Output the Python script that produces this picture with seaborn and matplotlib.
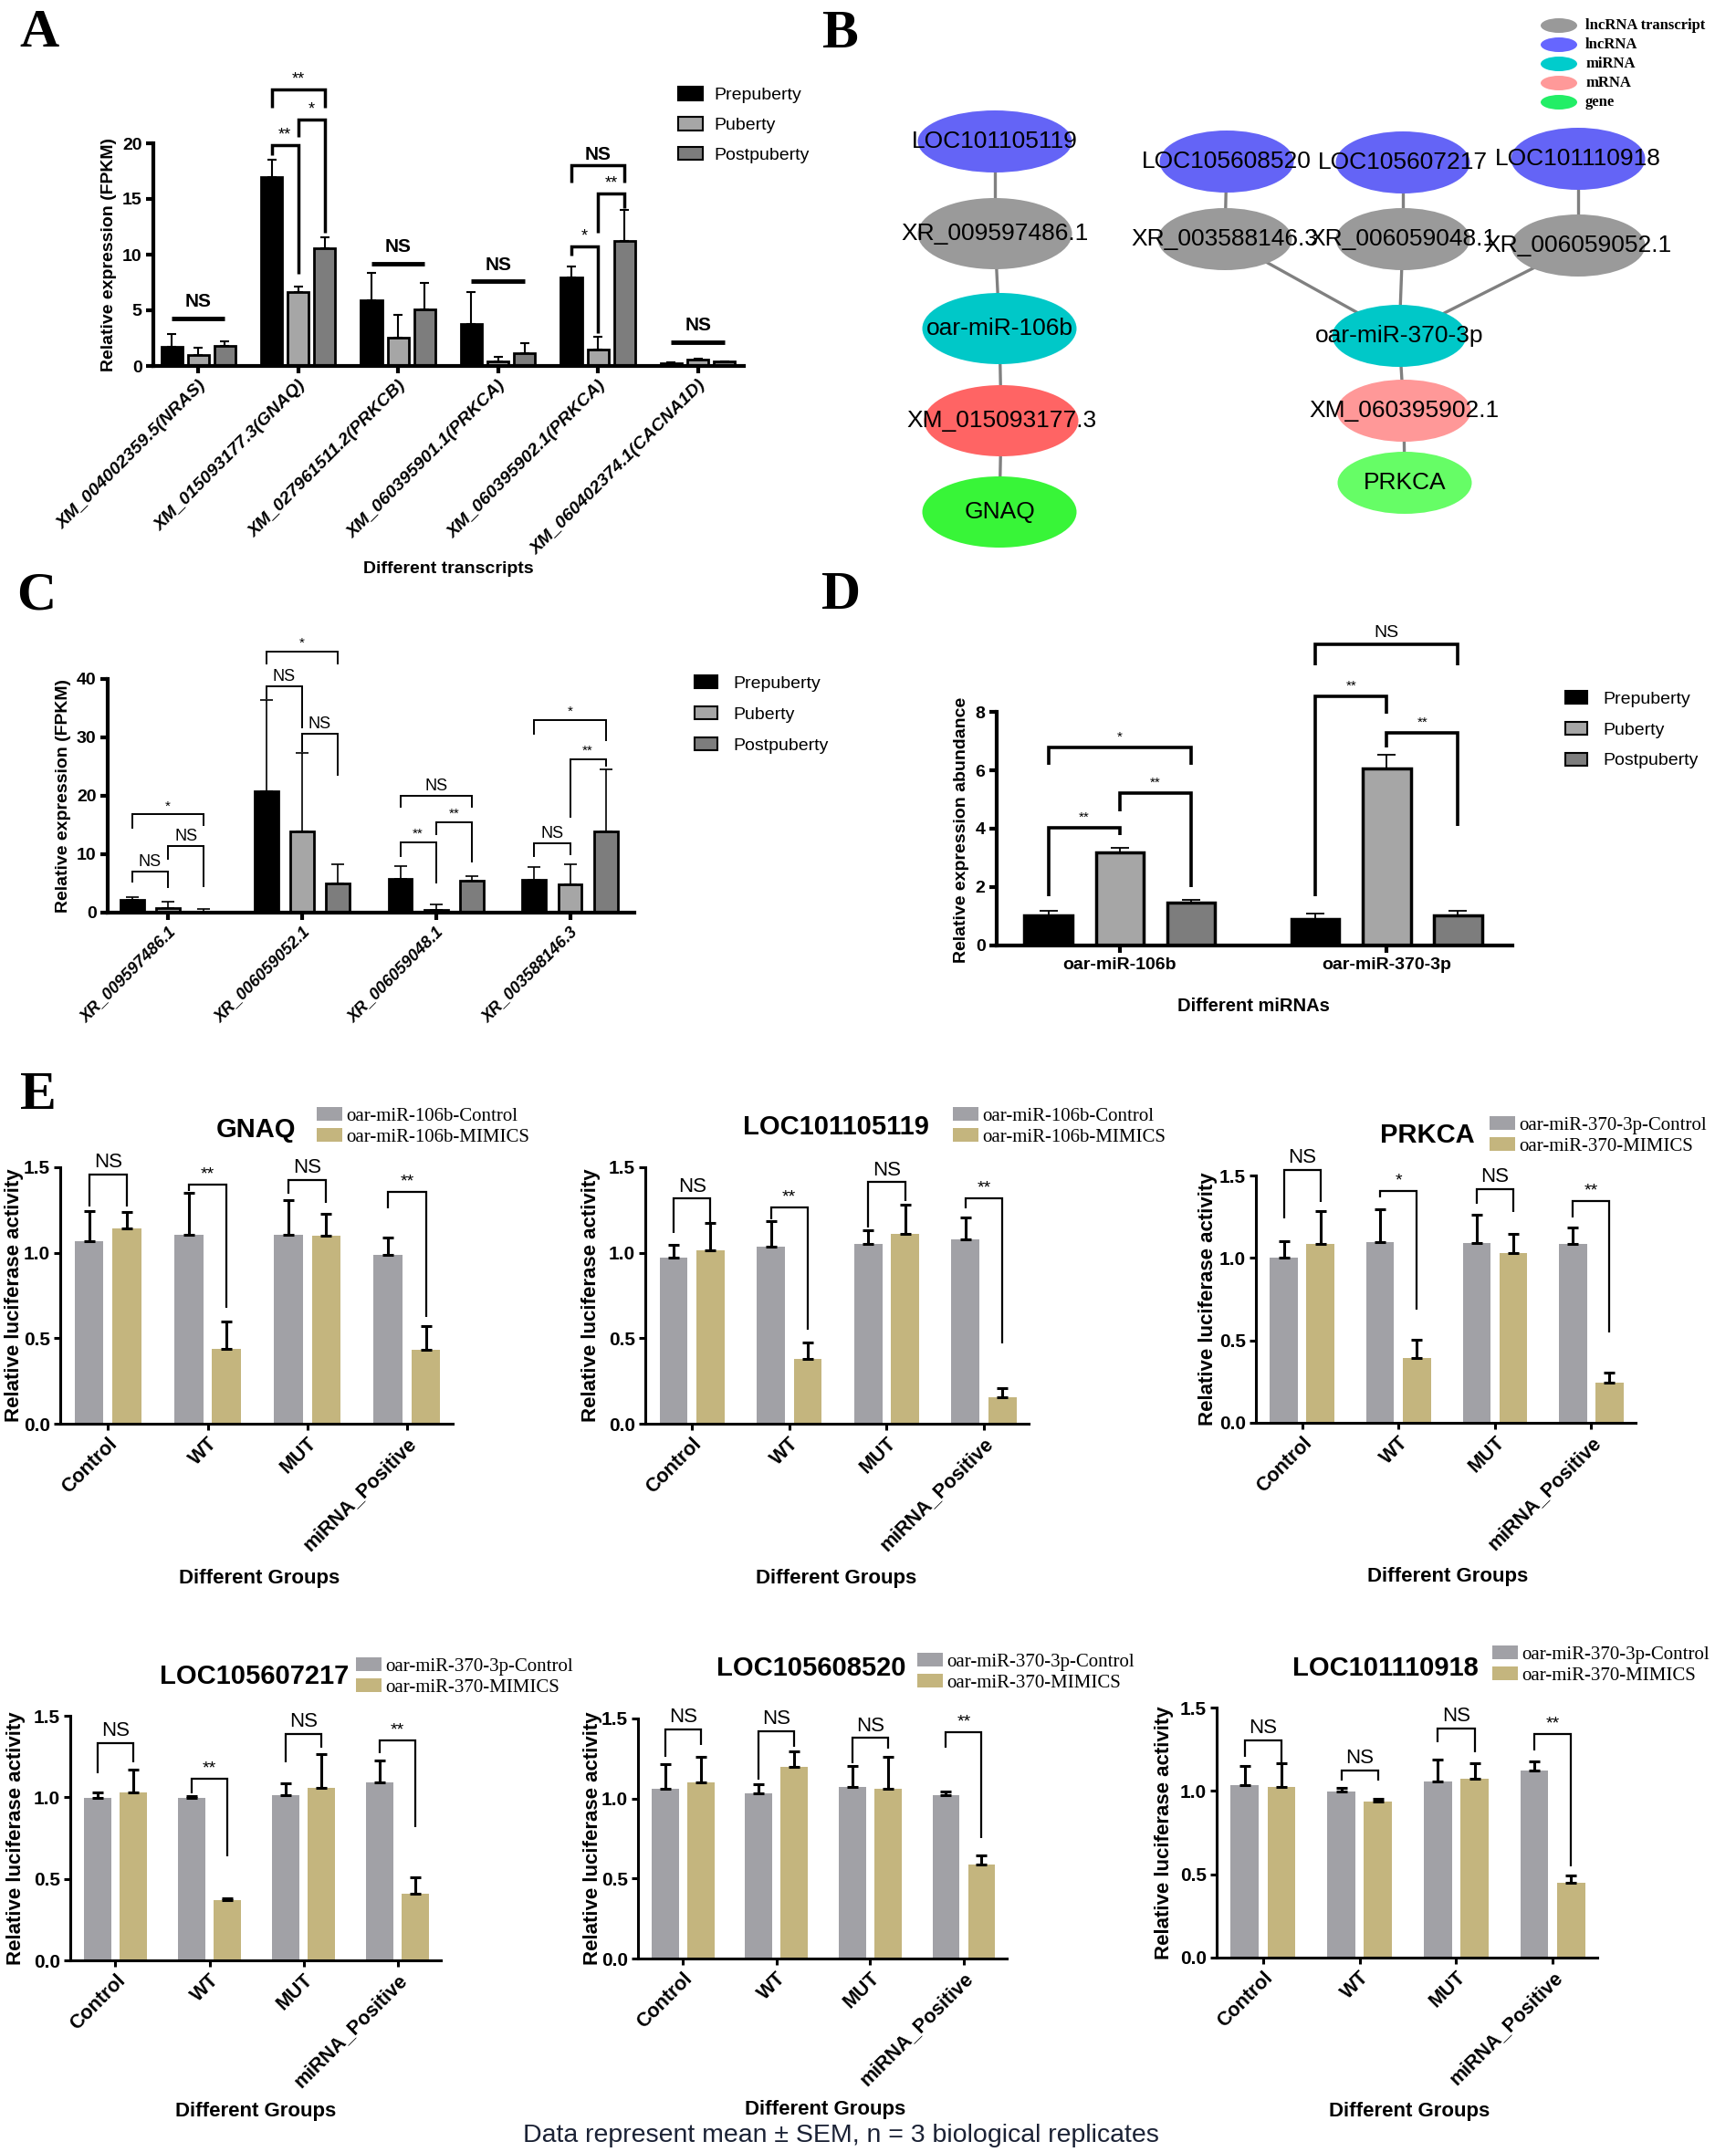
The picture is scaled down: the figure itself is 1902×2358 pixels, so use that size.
import numpy as np
import pandas as pd
import matplotlib
matplotlib.use("Agg")
import matplotlib.pyplot as plt
from matplotlib.patches import Ellipse, Patch
import seaborn as sns

# ---------------- data ----------------
stages = ["Prepuberty", "Puberty", "Postpuberty"]

# A  target mRNA transcripts (FPKM)
a_transcripts = ["XM_004002359.5(NRAS)", "XM_015093177.3(GNAQ)", "XM_027961511.2(PRKCB)",
                 "XM_060395901.1(PRKCA)", "XM_060395902.1(PRKCA)", "XM_060402374.1(CACNA1D)"]
a_pre = [1.75, 17.0, 5.87, 3.78, 7.92, 0.26]
a_pre_err = [1.12, 1.5, 2.48, 2.83, 1.0, 0.03]
a_pub = [0.98, 6.6, 2.57, 0.42, 1.5, 0.6]
a_pub_err = [0.7, 0.55, 2.03, 0.42, 1.14, 0.04]
a_post = [1.77, 10.55, 5.05, 1.15, 11.2, 0.38]
a_post_err = [0.48, 0.97, 2.37, 0.88, 2.85, 0.04]

# C  lncRNA transcripts (FPKM)
c_transcripts = ["XR_009597486.1", "XR_006059052.1", "XR_006059048.1", "XR_003588146.3"]
c_pre = [2.19, 20.75, 5.84, 5.58]
c_pre_err = [0.5, 15.7, 2.08, 2.24]
c_pub = [0.78, 13.97, 0.42, 4.9]
c_pub_err = [1.15, 13.4, 1.04, 3.44]
c_post = [0.2, 4.95, 5.47, 13.87]
c_post_err = [0.48, 3.29, 0.73, 10.7]

# D  miRNA abundance
d_mirnas = ["oar-miR-106b", "oar-miR-370-3p"]
d_pre = [1.02, 0.92]
d_pre_err = [0.18, 0.17]
d_pub = [3.18, 6.07]
d_pub_err = [0.16, 0.45]
d_post = [1.46, 1.02]
d_post_err = [0.11, 0.18]

# B  ceRNA network
b_nodes = ["LOC101105119", "XR_009597486.1", "oar-miR-106b", "XM_015093177.3", "GNAQ",
           "LOC105608520", "LOC105607217", "LOC101110918",
           "XR_003588146.3", "XR_006059048.1", "XR_006059052.1",
           "oar-miR-370-3p", "XM_060395902.1", "PRKCA"]
b_edges = [("LOC101105119", "XR_009597486.1"), ("XR_009597486.1", "oar-miR-106b"),
           ("oar-miR-106b", "XM_015093177.3"), ("XM_015093177.3", "GNAQ"),
           ("LOC105608520", "XR_003588146.3"), ("LOC105607217", "XR_006059048.1"),
           ("LOC101110918", "XR_006059052.1"), ("XR_003588146.3", "oar-miR-370-3p"),
           ("XR_006059048.1", "oar-miR-370-3p"), ("XR_006059052.1", "oar-miR-370-3p"),
           ("oar-miR-370-3p", "XM_060395902.1"), ("XM_060395902.1", "PRKCA")]
b_types = ["lncRNA transcript", "lncRNA", "miRNA", "mRNA", "gene"]

# E  dual luciferase
e_groups = ["Control", "WT", "MUT", "miRNA_Positive"]
gnaq_ctrl = [1.066, 1.107, 1.103, 0.988]
gnaq_ctrl_err = [0.178, 0.243, 0.207, 0.101]
gnaq_mimic = [1.14, 0.436, 1.099, 0.43]
gnaq_mimic_err = [0.096, 0.164, 0.129, 0.143]
loc119_ctrl = [0.972, 1.033, 1.054, 1.078]
loc119_ctrl_err = [0.072, 0.152, 0.076, 0.129]
loc119_mimic = [1.013, 0.379, 1.109, 0.153]
loc119_mimic_err = [0.159, 0.098, 0.17, 0.054]
prkca_ctrl = [1.002, 1.097, 1.091, 1.085]
prkca_ctrl_err = [0.102, 0.197, 0.169, 0.099]
prkca_mimic = [1.087, 0.392, 1.028, 0.246]
prkca_mimic_err = [0.197, 0.112, 0.118, 0.061]
loc217_ctrl = [0.995, 0.995, 1.012, 1.092]
loc217_ctrl_err = [0.037, 0.011, 0.076, 0.132]
loc217_mimic = [1.03, 0.367, 1.059, 0.408]
loc217_mimic_err = [0.14, 0.014, 0.204, 0.103]
loc520_ctrl = [1.062, 1.031, 1.075, 1.022]
loc520_ctrl_err = [0.154, 0.059, 0.131, 0.022]
loc520_mimic = [1.1, 1.199, 1.058, 0.585]
loc520_mimic_err = [0.158, 0.097, 0.2, 0.057]
loc918_ctrl = [1.035, 0.997, 1.055, 1.12]
loc918_ctrl_err = [0.113, 0.02, 0.132, 0.058]
loc918_mimic = [1.021, 0.936, 1.075, 0.451]
loc918_mimic_err = [0.145, 0.014, 0.093, 0.044]
names_106b = ["oar-miR-106b-Control", "oar-miR-106b-MIMICS"]
names_370 = ["oar-miR-370-3p-Control", "oar-miR-370-MIMICS"]

# ---------------- style ----------------
sns.set_style("ticks", {"axes.edgecolor": "black", "xtick.color": "black", "ytick.color": "black",
                        "text.color": "black", "axes.labelcolor": "black"})
plt.rcParams["font.family"] = ["Liberation Sans", "DejaVu Sans"]
stage_colors = ["#000000", "#a6a6a6", "#7d7d7d"]
e_colors = ["#a1a1a6", "#c4b57e"]

W, H = 1902, 2358
fig = plt.figure(figsize=(W / 100, H / 100), dpi=100)


def px_axes(left, top, right, bottom):
    return fig.add_axes([left / W, 1 - bottom / H, (right - left) / W, (bottom - top) / H])


def ftext(x, y, s, **kw):
    fig.text(x / W, 1 - y / H, s, **kw)


def draw_bars(ax, cats, names, series, errs, colors, width, gap, edge_lw, err_lw, capsize):
    df = pd.DataFrame({"cat": np.tile(cats, len(names)),
                       "series": np.repeat(names, len(cats)),
                       "val": np.concatenate(series)})
    sns.barplot(data=df, x="cat", y="val", hue="series", order=cats, hue_order=names,
                palette=colors, width=width, gap=gap, saturation=1, errorbar=None,
                edgecolor="black" if edge_lw else "none", linewidth=edge_lw,
                legend=False, ax=ax)
    centers = []
    for cont, err in zip(ax.containers, errs):
        xs = np.array([p.get_x() + p.get_width() / 2 for p in cont])
        ys = np.array([p.get_height() for p in cont])
        ax.errorbar(xs, ys, yerr=[np.zeros_like(ys), err], fmt="none", ecolor="black",
                    elinewidth=err_lw, capsize=capsize, capthick=err_lw)
        centers.append(xs)
    ax.set_xlabel("")
    ax.set_ylabel("")
    return centers


def finish_axes(ax, ymax, yticks, fmt, lw, tlen, tsize):
    sns.despine(ax=ax)
    ax.spines["left"].set_linewidth(lw)
    ax.spines["bottom"].set_linewidth(lw)
    ax.set_ylim(0, ymax)
    ax.set_yticks(yticks, labels=[fmt.format(v) for v in yticks], fontsize=tsize, fontweight="bold")
    ax.tick_params(width=lw, length=tlen, pad=3)


def bracket(ax, x1, x2, top, yl, yr, label, lw, fs, weight="normal", pad=1.0):
    ax.plot([x1, x1, x2, x2], [yl, top, top, yr], color="black", lw=lw, clip_on=False,
            solid_joinstyle="miter", solid_capstyle="butt")
    ax.annotate(label, ((x1 + x2) / 2, top), xytext=(0, pad), textcoords="offset points",
                ha="center", va="bottom", fontsize=fs, fontweight=weight, annotation_clip=False)


def px_legend(ax, labels, colors, x, y, fs, family, hl, hh, ls, tp, edge_lw):
    handles = [Patch(facecolor=c, edgecolor="black" if edge_lw else "none", linewidth=edge_lw)
               for c in colors]
    ax.legend(handles, labels, loc="upper left", bbox_to_anchor=(x / W, 1 - y / H),
              bbox_transform=fig.transFigure, frameon=False, borderpad=0, borderaxespad=0,
              handlelength=hl, handleheight=hh, labelspacing=ls, handletextpad=tp,
              prop={"family": family, "size": fs})


# ---------------- A ----------------
ax_a = px_axes(168, 157, 815, 401)
ca = draw_bars(ax_a, a_transcripts, stages, [a_pre, a_pub, a_post],
               [a_pre_err, a_pub_err, a_post_err], stage_colors, 0.8, 0.21, 2, 1.5, 3.5)
finish_axes(ax_a, 20, [0, 5, 10, 15, 20], "{:g}", 3, 6, 14)
ax_a.set_xlim(-0.45, 5.46)
ax_a.set_xticks(range(len(a_transcripts)), labels=a_transcripts, rotation=45, ha="right",
                rotation_mode="anchor", fontsize=14, fontweight="bold", fontstyle="italic")
for g, y in [(0, 4.3), (2, 9.2), (3, 7.6), (5, 2.17)]:
    bracket(ax_a, ca[0][g], ca[2][g], y, y, y, "NS", 3.5, 15, "bold", 6)
for g, i, j, top, yl, yr, lab in [(1, 0, 1, 19.8, 18.9, 8.3, "**"), (1, 1, 2, 22.1, 20.6, 12.0, "*"),
                                  (1, 0, 2, 24.8, 23.2, 23.2, "**"), (4, 0, 1, 10.7, 9.9, 2.95, "*"),
                                  (4, 1, 2, 15.5, 12.0, 14.2, "**"), (4, 0, 2, 18.0, 16.5, 16.5, "NS")]:
    bracket(ax_a, ca[i][g], ca[j][g], top, yl, yr, lab, 2.5,
            15 if lab == "NS" else 13, "bold" if lab == "NS" else "normal", 2)
px_legend(ax_a, stages, stage_colors, 743, 95, 14, "Liberation Sans", 1.4, 0.8, 0.75, 0.6, 1.5)
ftext(120, 279, "Relative expression (FPKM)", rotation=90, ha="center", va="center",
      fontsize=14, fontweight="bold")
ftext(491, 624, "Different transcripts", ha="center", va="center", fontsize=14, fontweight="bold")

# ---------------- B ----------------
ax_b = px_axes(890, 0, 1902, 600)
ax_b.set_xlim(890, 1902)
ax_b.set_ylim(600, 0)
ax_b.axis("off")
b_pos = {"LOC101105119": (1090, 155), "XR_009597486.1": (1090, 256), "oar-miR-106b": (1095, 360),
         "XM_015093177.3": (1097, 461), "GNAQ": (1095, 561),
         "LOC105608520": (1344, 177), "LOC105607217": (1537, 178), "LOC101110918": (1729, 174),
         "XR_003588146.3": (1342, 262), "XR_006059048.1": (1537, 262), "XR_006059052.1": (1729, 269),
         "oar-miR-370-3p": (1533, 368), "XM_060395902.1": (1538, 450), "PRKCA": (1539, 529)}
b_fill = {"LOC101105119": "#6464f6", "XR_009597486.1": "#9a9a9a", "oar-miR-106b": "#00c8c8",
          "XM_015093177.3": "#ff6464", "GNAQ": "#38f538",
          "LOC105608520": "#6464f6", "LOC105607217": "#6464f6", "LOC101110918": "#6464f6",
          "XR_003588146.3": "#9a9a9a", "XR_006059048.1": "#9a9a9a", "XR_006059052.1": "#9a9a9a",
          "oar-miR-370-3p": "#00c8c8", "XM_060395902.1": "#ff9898", "PRKCA": "#66fd66"}
for n1, n2 in b_edges:
    (x1, y1), (x2, y2) = b_pos[n1], b_pos[n2]
    ax_b.plot([x1, x2], [y1, y2], color="#808080", lw=2.4, zorder=1)
for n in b_nodes:
    x, y = b_pos[n]
    left_col = x < 1200
    w, h = (169, 68 if n == "LOC101105119" else 78) if left_col else (147, 68)
    ax_b.add_patch(Ellipse((x, y), w, h, facecolor=b_fill[n], edgecolor="none", zorder=2))
    ax_b.text(x, y, n, ha="center", va="center", fontsize=19, zorder=3)
for k, (t, c) in enumerate(zip(b_types, ["#999999", "#6666ff", "#00cccc", "#ff9999", "#22ee66"])):
    yy = 28 + k * 21
    ax_b.add_patch(Ellipse((1708, yy), 40, 16, facecolor=c, edgecolor="none"))
    ax_b.text(1737, yy, t, ha="left", va="center", fontsize=12, fontweight="bold",
              family="Liberation Serif")

# ---------------- C ----------------
ax_c = px_axes(118, 744, 695, 1000)
cc = draw_bars(ax_c, c_transcripts, stages, [c_pre, c_pub, c_post],
               [c_pre_err, c_pub_err, c_post_err], stage_colors, 0.8, 0.34, 2, 1.2, 5)
finish_axes(ax_c, 40, [0, 10, 20, 30, 40], "{:g}", 3, 6, 14)
ax_c.set_xlim(-0.45, 3.48)
ax_c.set_xticks(range(len(c_transcripts)), labels=c_transcripts, rotation=45, ha="right",
                rotation_mode="anchor", fontsize=13, fontweight="bold", fontstyle="italic")
for g, i, j, top, yl, yr, lab in [(0, 0, 1, 7.04, 5.2, 4.2, "NS"), (0, 1, 2, 11.47, 9.1, 4.4, "NS"),
                                  (0, 0, 2, 16.8, 14.3, 14.9, "*"), (1, 0, 1, 38.7, 36.5, 31.5, "NS"),
                                  (1, 1, 2, 30.6, 27.5, 23.5, "NS"), (1, 0, 2, 44.7, 42.5, 42.5, "*"),
                                  (2, 0, 1, 12.1, 9.6, 4.95, "**"), (2, 1, 2, 15.5, 13.3, 8.6, "**"),
                                  (2, 0, 2, 20.0, 18.0, 18.0, "NS"), (3, 0, 1, 11.9, 9.6, 9.9, "NS"),
                                  (3, 1, 2, 26.3, 16.3, 25.0, "**"), (3, 0, 2, 32.95, 30.5, 29.3, "*")]:
    bracket(ax_c, cc[i][g], cc[j][g], top, yl, yr, lab, 1.4, 13 if lab == "NS" else 11, "normal", 1.5)
px_legend(ax_c, stages, stage_colors, 761, 740, 14, "Liberation Sans", 1.3, 0.7, 0.85, 0.9, 1.5)
ftext(69, 872, "Relative expression (FPKM)", rotation=90, ha="center", va="center",
      fontsize=14, fontweight="bold")

# ---------------- D ----------------
ax_d = px_axes(1092, 780, 1657, 1036)
cd = draw_bars(ax_d, d_mirnas, stages, [d_pre, d_pub, d_post],
               [d_pre_err, d_pub_err, d_post_err], stage_colors, 0.8, 0.33, 2.5, 1.3, 7)
finish_axes(ax_d, 8, [0, 2, 4, 6, 8], "{:g}", 3, 6, 14)
ax_d.set_xlim(-0.46, 1.47)
ax_d.set_xticks(range(len(d_mirnas)), labels=d_mirnas, fontsize=14, fontweight="bold")
for g, i, j, top, yl, yr, lab in [(0, 0, 1, 4.02, 1.7, 3.78, "**"), (0, 1, 2, 5.21, 4.58, 2.0, "**"),
                                  (0, 0, 2, 6.77, 6.2, 6.2, "*"), (1, 0, 1, 8.52, 1.7, 7.95, "**"),
                                  (1, 1, 2, 7.29, 6.77, 4.09, "**"), (1, 0, 2, 10.31, 9.58, 9.58, "NS")]:
    bracket(ax_d, cd[i][g], cd[j][g], top, yl, yr, lab, 2.6, 14 if lab == "NS" else 11, "normal", 3)
px_legend(ax_d, stages, stage_colors, 1715, 757, 14, "Liberation Sans", 1.25, 0.7, 0.84, 0.9, 1.5)
ftext(1053, 909, "Relative expression abundance", rotation=90, ha="center", va="center",
      fontsize=14, fontweight="bold")
ftext(1373, 1103, "Different miRNAs", ha="center", va="center", fontsize=14.5, fontweight="bold")

# ---------------- E ----------------
e_panels = [
    ("GNAQ", gnaq_ctrl, gnaq_ctrl_err, gnaq_mimic, gnaq_mimic_err, names_106b),
    ("LOC101105119", loc119_ctrl, loc119_ctrl_err, loc119_mimic, loc119_mimic_err, names_106b),
    ("PRKCA", prkca_ctrl, prkca_ctrl_err, prkca_mimic, prkca_mimic_err, names_370),
    ("LOC105607217", loc217_ctrl, loc217_ctrl_err, loc217_mimic, loc217_mimic_err, names_370),
    ("LOC105608520", loc520_ctrl, loc520_ctrl_err, loc520_mimic, loc520_mimic_err, names_370),
    ("LOC101110918", loc918_ctrl, loc918_ctrl_err, loc918_mimic, loc918_mimic_err, names_370),
]
# axes box, title centre, legend anchor, y-label x, x-label centre (pixels)
e_layout = [
    ((66, 1279, 496, 1560), (281, 1238), (347, 1213), 16, (284, 1730)),
    ((707, 1279, 1127, 1560), (916, 1235), (1044, 1213), 648, (916, 1730)),
    ((1376, 1288, 1792, 1559), (1564, 1244), (1632, 1223), 1323, (1586, 1728)),
    ((77, 1880, 483, 2148), (279, 1837), (390, 1816), 18, (280, 2313)),
    ((699, 1883, 1103, 2146), (889, 1828), (1005, 1811), 650, (904, 2311)),
    ((1333, 1871, 1750, 2145), (1518, 1828), (1635, 1803), 1276, (1544, 2313)),
]
e_sig = [
    [(1.457, 1.27, 1.27, "NS"), (1.398, 1.36, 0.68, "**"), (1.426, 1.344, 1.29, "NS"), (1.357, 1.26, 0.624, "**")],
    [(1.316, 1.115, 1.177, "NS"), (1.265, 1.197, 0.552, "**"), (1.412, 1.146, 1.30, "NS"), (1.316, 1.258, 0.47, "**")],
    [(1.532, 1.239, 1.341, "NS"), (1.405, 1.367, 0.684, "*"), (1.419, 1.33, 1.278, "NS"), (1.345, 1.246, 0.547, "**")],
    [(1.331, 1.15, 1.216, "NS"), (1.113, 1.026, 0.639, "**"), (1.387, 1.212, 1.304, "NS"), (1.35, 1.273, 0.816, "**")],
    [(1.433, 1.258, 1.332, "NS"), (1.42, 1.117, 1.321, "NS"), (1.378, 1.222, 1.311, "NS"), (1.412, 1.315, 0.753, "**")],
    [(1.304, 1.203, 1.168, "NS"), (1.122, 1.061, 1.061, "NS"), (1.375, 1.29, 1.233, "NS"), (1.34, 1.243, 0.546, "**")],
]
for (title, c_v, c_e, m_v, m_e, names), (box, tpos, lpos, ylx, xlpos), sig in zip(e_panels, e_layout, e_sig):
    ax = px_axes(*box)
    ce = draw_bars(ax, e_groups, names, [c_v, m_v], [c_e, m_e], e_colors, 0.76, 0.24, 0, 2.2, 4.5)
    finish_axes(ax, 1.5, [0, 0.5, 1.0, 1.5], "{:.1f}", 2.2, 5, 15)
    ax.set_xlim(-0.48, 3.46)
    ax.set_xticks(range(len(e_groups)), labels=e_groups, rotation=45, ha="right",
                  rotation_mode="anchor", fontsize=15.5, fontweight="bold")
    for g, (top, yl, yr, lab) in enumerate(sig):
        bracket(ax, ce[0][g], ce[1][g], top, yl, yr, lab, 1.6, 16 if lab == "NS" else 14, "normal", 2)
    px_legend(ax, names, e_colors, lpos[0], lpos[1], 15, "Liberation Serif", 1.35, 0.72, 0.15, 0.2, 0)
    ftext(tpos[0], tpos[1], title, ha="center", va="center", fontsize=21, fontweight="bold")
    ftext(ylx, (box[1] + box[3]) / 2, "Relative luciferase activity", rotation=90,
          ha="center", va="center", fontsize=16, fontweight="bold")
    ftext(xlpos[0], xlpos[1], "Different Groups", ha="center", va="center", fontsize=16, fontweight="bold")

ftext(921, 2340, "Data represent mean \u00b1 SEM, n = 3 biological replicates", ha="center", va="center",
      fontsize=20.5, color="#1b2235")

# panel letters
for lab, x, y in [("A", 21, 51), ("B", 900, 52), ("C", 18, 667), ("D", 900, 667), ("E", 22, 1215)]:
    ftext(x, y, lab, ha="left", va="baseline", fontsize=43, fontweight="bold", family="Liberation Serif")

fig.savefig("out.png", dpi=100)
